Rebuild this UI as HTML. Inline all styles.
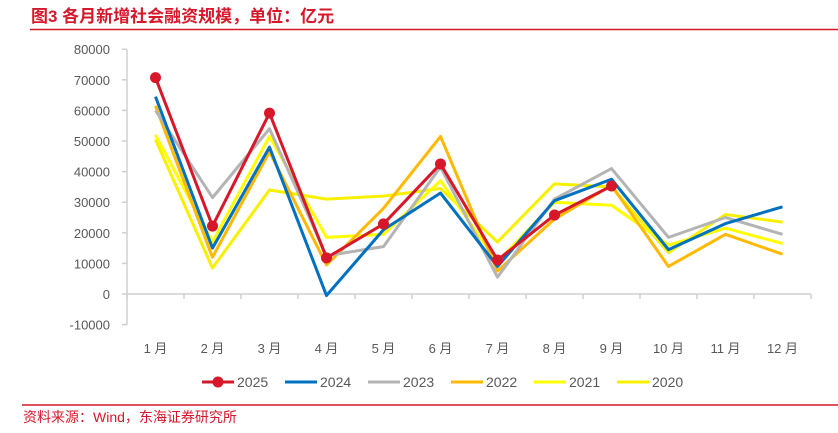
<!DOCTYPE html>
<html><head><meta charset="utf-8"><style>
body{margin:0;background:#fff;width:838px;height:428px;overflow:hidden;font-family:"Liberation Sans","Noto Sans CJK SC",sans-serif}
svg text{font-family:"Liberation Sans","Noto Sans CJK SC",sans-serif}
</style></head><body>
<svg width="838" height="428">
<text x="31" y="22" fill="#d7182a" font-size="17" font-weight="bold">图3  各月新增社会融资规模，单位：亿元</text>
<line x1="30" y1="29.5" x2="838" y2="29.5" stroke="#d7182a" stroke-width="1.5"/>
<g id="axes"></g>
<g id="lines"></g>
<g id="legend"></g>
<line x1="22" y1="405" x2="838" y2="405" stroke="#d7182a" stroke-width="1.5"/>
<text x="23" y="422" fill="#d7182a" font-size="14">资料来源：Wind，东海证券研究所</text>
</svg>
<script>
const categories=["1 月","2 月","3 月","4 月","5 月","6 月","7 月","8 月","9 月","10 月","11 月","12 月"];
const yTicks=[-10000,0,10000,20000,30000,40000,50000,60000,70000,80000];
const seriesNames=["2025","2024","2023","2022","2021","2020"];
const s2025=[70700,22200,59100,11800,22900,42500,11100,25800,35300];
const s2024=[64500,15000,48000,-500,21000,33000,9000,30500,37500,14500,23000,28500];
const s2023=[60000,31500,54000,12500,15500,41500,5500,31000,41000,18500,25000,19500];
const s2022=[61500,12000,46500,9500,28000,51500,7500,24500,35500,9000,19500,13000];
const s2021=[52000,17000,51500,18500,19500,37000,10500,30000,29000,16000,21500,16500];
const s2020=[50500,8500,34000,31000,32000,34500,17000,36000,35000,13500,26000,23500];
const colors=["#d7182a","#0070c0","#b4b4b4","#ffb900","#ffff00","#f8f000"];
const NS="http://www.w3.org/2000/svg";
const x0=127,x1=811,yZero=294,pxPer=30.6/10000;
const xs=i=>x0+(x1-x0)/categories.length*(i+0.5);
const ys=v=>yZero-v*pxPer;
function mk(t,a,p){const e=document.createElementNS(NS,t);for(const k in a)e.setAttribute(k,a[k]);p.appendChild(e);return e;}
const ax=document.getElementById('axes');
let yl=mk('line',{x1:x0,y1:ys(80000),x2:x0,y2:ys(-10000),stroke:'#d0d0d0','stroke-width':1.5},ax);


yTicks.forEach(v=>{
 const t=mk('line',{x1:x0-5,y1:ys(v),x2:x0,y2:ys(v),stroke:'#d0d0d0','stroke-width':1.5},ax);
 
 
 const l=mk('text',{x:110,y:ys(v)+5,'text-anchor':'end','font-size':13,fill:'#595959'},ax);
 l.textContent=v;
 
 
});
let xl=mk('line',{x1:x0,y1:yZero,x2:x1,y2:yZero,stroke:'#d0d0d0','stroke-width':1.5},ax);


const step=(x1-x0)/categories.length;
for(let i=0;i<=categories.length;i++){
 const t=mk('line',{x1:x0+step*i,y1:yZero,x2:x0+step*i,y2:yZero+5,stroke:'#d0d0d0','stroke-width':1.5},ax);
 
 
}
categories.forEach((c,i)=>{
 const l=mk('text',{x:xs(i),y:353,'text-anchor':'middle','font-size':13,fill:'#595959'},ax);
 l.textContent=c;
 
 
});
const data=[s2025,s2024,s2023,s2022,s2021,s2020];
const lg=document.getElementById('lines');
for(let k=data.length-1;k>=0;k--){
 const pts=data[k].map((v,i)=>xs(i)+','+ys(v)).join(' ');
 const p=mk('polyline',{points:pts,fill:'none',stroke:colors[k],'stroke-width':3,'stroke-linejoin':'round'},lg);
 
 
}
s2025.forEach((v,i)=>{
 const c=mk('circle',{cx:xs(i),cy:ys(v),r:5.5,fill:colors[0]},lg);
 
 
});
const le=document.getElementById('legend');
seriesNames.forEach((n,k)=>{
 const bx=202+83*k;
 const g=mk('g',{},le);
 
 
 mk('line',{x1:bx,y1:382,x2:bx+32,y2:382,stroke:colors[k],'stroke-width':3},g);
 if(k===0)mk('circle',{cx:bx+16,cy:382,r:5.5,fill:colors[0]},g);
 const t=mk('text',{x:bx+35,y:387,'font-size':14,fill:'#595959'},g);
 t.textContent=n;
});
</script>
</body></html>
